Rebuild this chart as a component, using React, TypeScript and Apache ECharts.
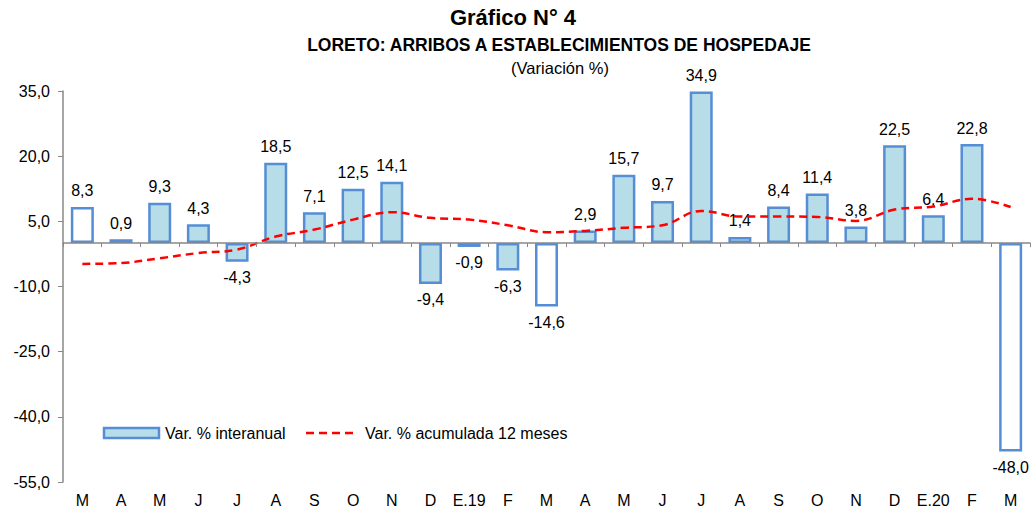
import React, { useEffect, useRef } from "react";
import * as echarts from "echarts";

const categories = ["M","A","M","J","J","A","S","O","N","D","E.19","F","M","A","M","J","J","A","S","O","N","D","E.20","F","M"];
const interanual = [8.3,0.9,9.3,4.3,-4.3,18.5,7.1,12.5,14.1,-9.4,-0.9,-6.3,-14.6,2.9,15.7,9.7,34.9,1.4,8.4,11.4,3.8,22.5,6.4,22.8,-48.0];
const acumulada = [-4.8,-4.6,-3.5,-2.3,-1.5,1.5,3.1,5.4,7.1,5.8,5.4,4.1,2.5,2.8,3.5,4.1,7.4,6.1,6.1,6.0,5.1,7.7,8.4,10.2,8.3];
const whiteBars = [0, 12, 24];
const yTicks = { min: -55, max: 35, interval: 15 };
const seriesNames = ["Var. % interanual", "Var. % acumulada 12 meses"];

const FONT = "'Liberation Sans', Arial, sans-serif";
const fmt = (v: number) => v.toFixed(1).replace(".", ",");

export default function App() {
  const ref = useRef<HTMLDivElement>(null);
  useEffect(() => {
    document.body.style.margin = "0";
    const chart = echarts.init(ref.current!, null, { renderer: "svg" });
    const barData = interanual.map((v, i) => ({
      value: v,
      itemStyle: whiteBars.includes(i) ? { color: "#FFFFFF" } : undefined,
      label: { position: v < 0 ? "bottom" : "top" },
    }));
    chart.setOption({
      animation: false,
      backgroundColor: "#fff",
      graphic: [
        { type: "text", x: 513, y: 17, style: { text: "Gráfico N° 4", textAlign: "center", textVerticalAlign: "middle", font: `bold 22px ${FONT}`, fill: "#000" } },
        { type: "text", x: 559, y: 45, style: { text: "LORETO: ARRIBOS A ESTABLECIMIENTOS DE HOSPEDAJE", textAlign: "center", textVerticalAlign: "middle", font: `bold 17.5px ${FONT}`, fill: "#000" } },
        { type: "text", x: 560, y: 68, style: { text: "(Variación %)", textAlign: "center", textVerticalAlign: "middle", font: `16.5px ${FONT}`, fill: "#000" } },
        { type: "rect", shape: { x: 104, y: 428, width: 55, height: 10 }, style: { fill: "#B7DEE8", stroke: "#558ED5", lineWidth: 2.5 } },
        { type: "text", x: 165, y: 433, style: { text: seriesNames[0], textAlign: "left", textVerticalAlign: "middle", font: `16px ${FONT}`, fill: "#000" } },
        { type: "line", shape: { x1: 306, y1: 433, x2: 356, y2: 433 }, style: { stroke: "#FF0000", lineWidth: 2.5, lineDash: [8, 5] } },
        { type: "text", x: 365, y: 433, style: { text: seriesNames[1], textAlign: "left", textVerticalAlign: "middle", font: `16px ${FONT}`, fill: "#000" } },
      ],
      grid: { left: 63, right: 5, top: 91, bottom: 30 },
      xAxis: [
        {
          type: "category",
          data: categories,
          position: "bottom",
          axisLine: { onZero: true, lineStyle: { color: "#888", width: 1.5 } },
          axisTick: { show: true, length: 4, lineStyle: { color: "#888" } },
          axisLabel: { show: false },
          splitLine: { show: false },
          z: 10,
        },
        {
          type: "category",
          data: categories,
          position: "bottom",
          axisLine: { show: false, onZero: false },
          axisTick: { show: false },
          axisLabel: { show: true, margin: 10, fontFamily: FONT, fontSize: 16, color: "#000", interval: 0 },
          splitLine: { show: false },
        },
      ],
      yAxis: {
        type: "value",
        min: yTicks.min,
        max: yTicks.max,
        interval: yTicks.interval,
        axisLine: { show: true, lineStyle: { color: "#888", width: 1.5 } },
        axisTick: { show: true, length: 5, lineStyle: { color: "#888" } },
        splitLine: { show: false },
        axisLabel: { formatter: (v: number) => fmt(v), fontFamily: FONT, fontSize: 16, color: "#000", margin: 13 },
      },
      series: [
        {
          name: seriesNames[0],
          type: "bar",
          xAxisIndex: 0,
          data: barData,
          barWidth: 23,
          itemStyle: { color: "#B7DEE8", borderColor: "#558ED5", borderWidth: 2.5 },
          label: {
            show: true,
            distance: 8,
            formatter: (p: any) => fmt(p.value),
            fontFamily: FONT,
            fontSize: 16,
            color: "#000",
          },
          z: 2,
        },
        {
          name: seriesNames[1],
          type: "line",
          xAxisIndex: 0,
          data: acumulada,
          smooth: 0.4,
          symbol: "none",
          lineStyle: { color: "#FF0000", width: 2.5, type: [8, 5] },
          itemStyle: { color: "#FF0000" },
          z: 5,
        },
      ],
    });
    return () => chart.dispose();
  }, []);
  return <div ref={ref} style={{ position: "fixed", left: 0, top: 0, width: 1035, height: 512 }} />;
}
